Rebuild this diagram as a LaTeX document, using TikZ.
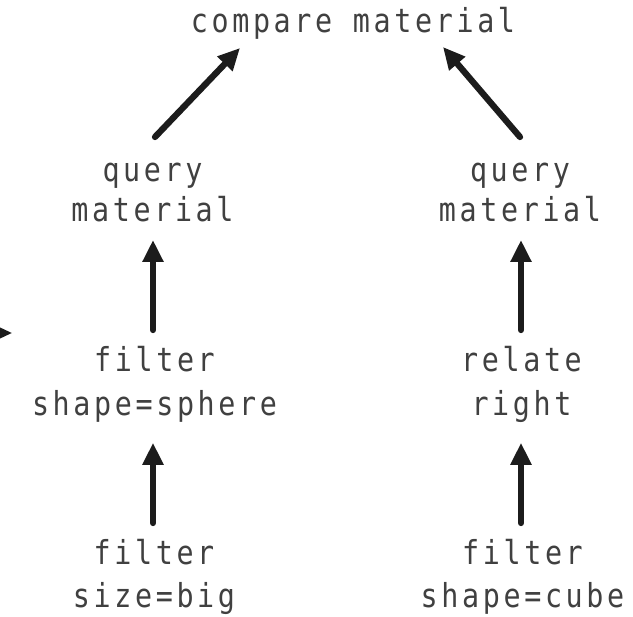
\documentclass[tikz,border=0pt]{standalone}
\usepackage{fontspec}
\setmonofont[FakeStretch=0.86, LetterSpace=11]{DejaVu Sans Mono}
\usetikzlibrary{arrows.meta,calc}
\definecolor{txt}{HTML}{404040}
\definecolor{ink}{HTML}{1C1C1C}
\tikzset{
  lbl/.style={inner sep=0pt, outer sep=0pt, align=center, text=txt},
  lblA/.style={lbl, font=\ttfamily\fontsize{33}{40}\selectfont},
  lblB/.style={lbl, font=\ttfamily\fontsize{33}{44}\selectfont},
  lblC/.style={lbl, font=\ttfamily\fontsize{33}{43}\selectfont},
  arr/.style={draw=ink, line width=6.3pt, line cap=round,
    -{Triangle[width=20pt,length=22pt]}, fill=ink},
  arrsmall/.style={draw=ink, line width=3pt,
    -{Triangle[width=14pt,length=16pt]}, fill=ink},
}
\begin{document}
\begin{tikzpicture}[x=1pt,y=-1pt]
\useasboundingbox[fill=white] (0,0) rectangle (633,617);
% top
\node[lblA, anchor=north] (cm) at (353,{33-28}) {\strut compare material};
% second row
\node[lblA, anchor=north] (qmL) at (152.5,{182-28}) {\strut query\\\strut material};
\node[lblA, anchor=north] (qmR) at (520,{182-28}) {\strut query\\\strut material};
% third row
\node[lblB, anchor=north] (fsL) at (154.5,{372-30.8}) {\strut filter\\\strut shape=sphere};
\node[lblB, anchor=north] (rrR) at (521.5,{372-30.8}) {\strut relate\\\strut right};
% bottom row
\node[lblC, anchor=north] (fbL) at (154,{565-30.1}) {\strut filter\\\strut size=big};
\node[lblC, anchor=north] (fcR) at (522.5,{565-30.1}) {\strut filter\\\strut shape=cube};
% diagonals to top
\draw[arr] ($(qmL.north)+(2.5,-17)$) -- ($(cm.south)+(-113,3)$);
\draw[arr] ($(qmR.north)+(0,-17)$) -- ($(cm.south)+(90,2)$);
% verticals
\draw[arr] ($(fsL.north)+(-1.5,-11.2)$) -- ($(fsL.north |- qmL.south)+(-1.5,6)$);
\draw[arr] ($(rrR.north)+(-0.5,-11.2)$) -- ($(rrR.north |- qmR.south)+(-0.5,6)$);
\draw[arr] ($(fbL.north)+(-1,-11.9)$) -- ($(fbL.north |- fsL.south)+(-1,13.6)$);
\draw[arr] ($(fcR.north)+(-1.5,-11.9)$) -- ($(fcR.north |- rrR.south)+(-1.5,13.6)$);
% cut-off arrow at the left edge
\coordinate (edgeA) at (-30,333);
\coordinate (edgeB) at (12,333);
\draw[arrsmall] (edgeA) -- (edgeB);
\end{tikzpicture}
\end{document}
